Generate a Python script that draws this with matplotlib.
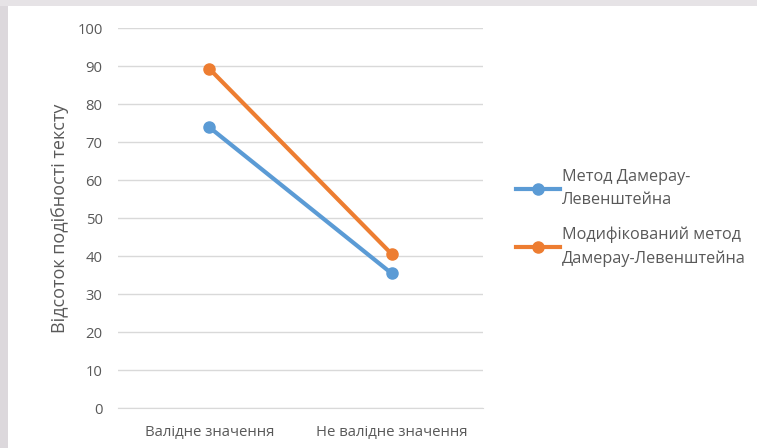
import matplotlib
matplotlib.use("Agg")
from matplotlib import pyplot as plt
from matplotlib.patches import Rectangle

categories = ["Валідне значення", "Не валідне значення"]
damerau = [73.9, 35.4]
modified = [89.3, 40.5]
series_names = ["Метод Дамерау-\nЛевенштейна", "Модифікований метод\nДамерау-Левенштейна"]
y_ticks = [0, 10, 20, 30, 40, 50, 60, 70, 80, 90, 100]

plt.rcParams['font.family'] = ['Open Sans', 'DejaVu Sans']
text_color = '#595959'

fig = plt.figure(figsize=(7.57, 4.48), dpi=100)
# grey frame around the slide
fig.patches.append(Rectangle((0, 0), 8 / 757, 1, transform=fig.transFigure,
                             facecolor='#dcd8dc', edgecolor='none', zorder=0))
fig.patches.append(Rectangle((0, 1 - 6 / 448), 1, 6 / 448, transform=fig.transFigure,
                             facecolor='#e6e3e6', edgecolor='none', zorder=0))

ax = fig.add_axes([118 / 757, 40 / 448, 365 / 757, 380 / 448])
x = [0, 1]
ax.plot(x, damerau, color='#5b9bd5', lw=3, marker='o', ms=8, label=series_names[0])
ax.plot(x, modified, color='#ed7d31', lw=3, marker='o', ms=8, label=series_names[1])

ax.set_xlim(-0.5, 1.5)
ax.set_ylim(0, 100)
ax.set_yticks(y_ticks)
ax.set_xticks(x)
ax.set_xticklabels(categories)
ax.grid(axis='y', color='#d9d9d9', lw=1)
ax.set_axisbelow(True)
for s in ['top', 'right', 'left']:
    ax.spines[s].set_visible(False)
ax.spines['bottom'].set_color('#d9d9d9')
ax.tick_params(length=0, colors=text_color, labelsize=10.7)
ax.tick_params(axis='y', pad=11)
ax.tick_params(axis='x', pad=12)
ax.set_ylabel("Відсоток подібності тексту", color=text_color, fontsize=13, labelpad=6)

leg = fig.legend(loc='center left', bbox_to_anchor=(501 / 757, 230 / 448), frameon=False,
                 fontsize=11.7, labelcolor=text_color, handlelength=2.7, handletextpad=0.15,
                 labelspacing=1.1)
for t in leg.get_texts():
    t.set_linespacing(1.6)

fig.savefig("out.png", dpi=100, facecolor='white')
